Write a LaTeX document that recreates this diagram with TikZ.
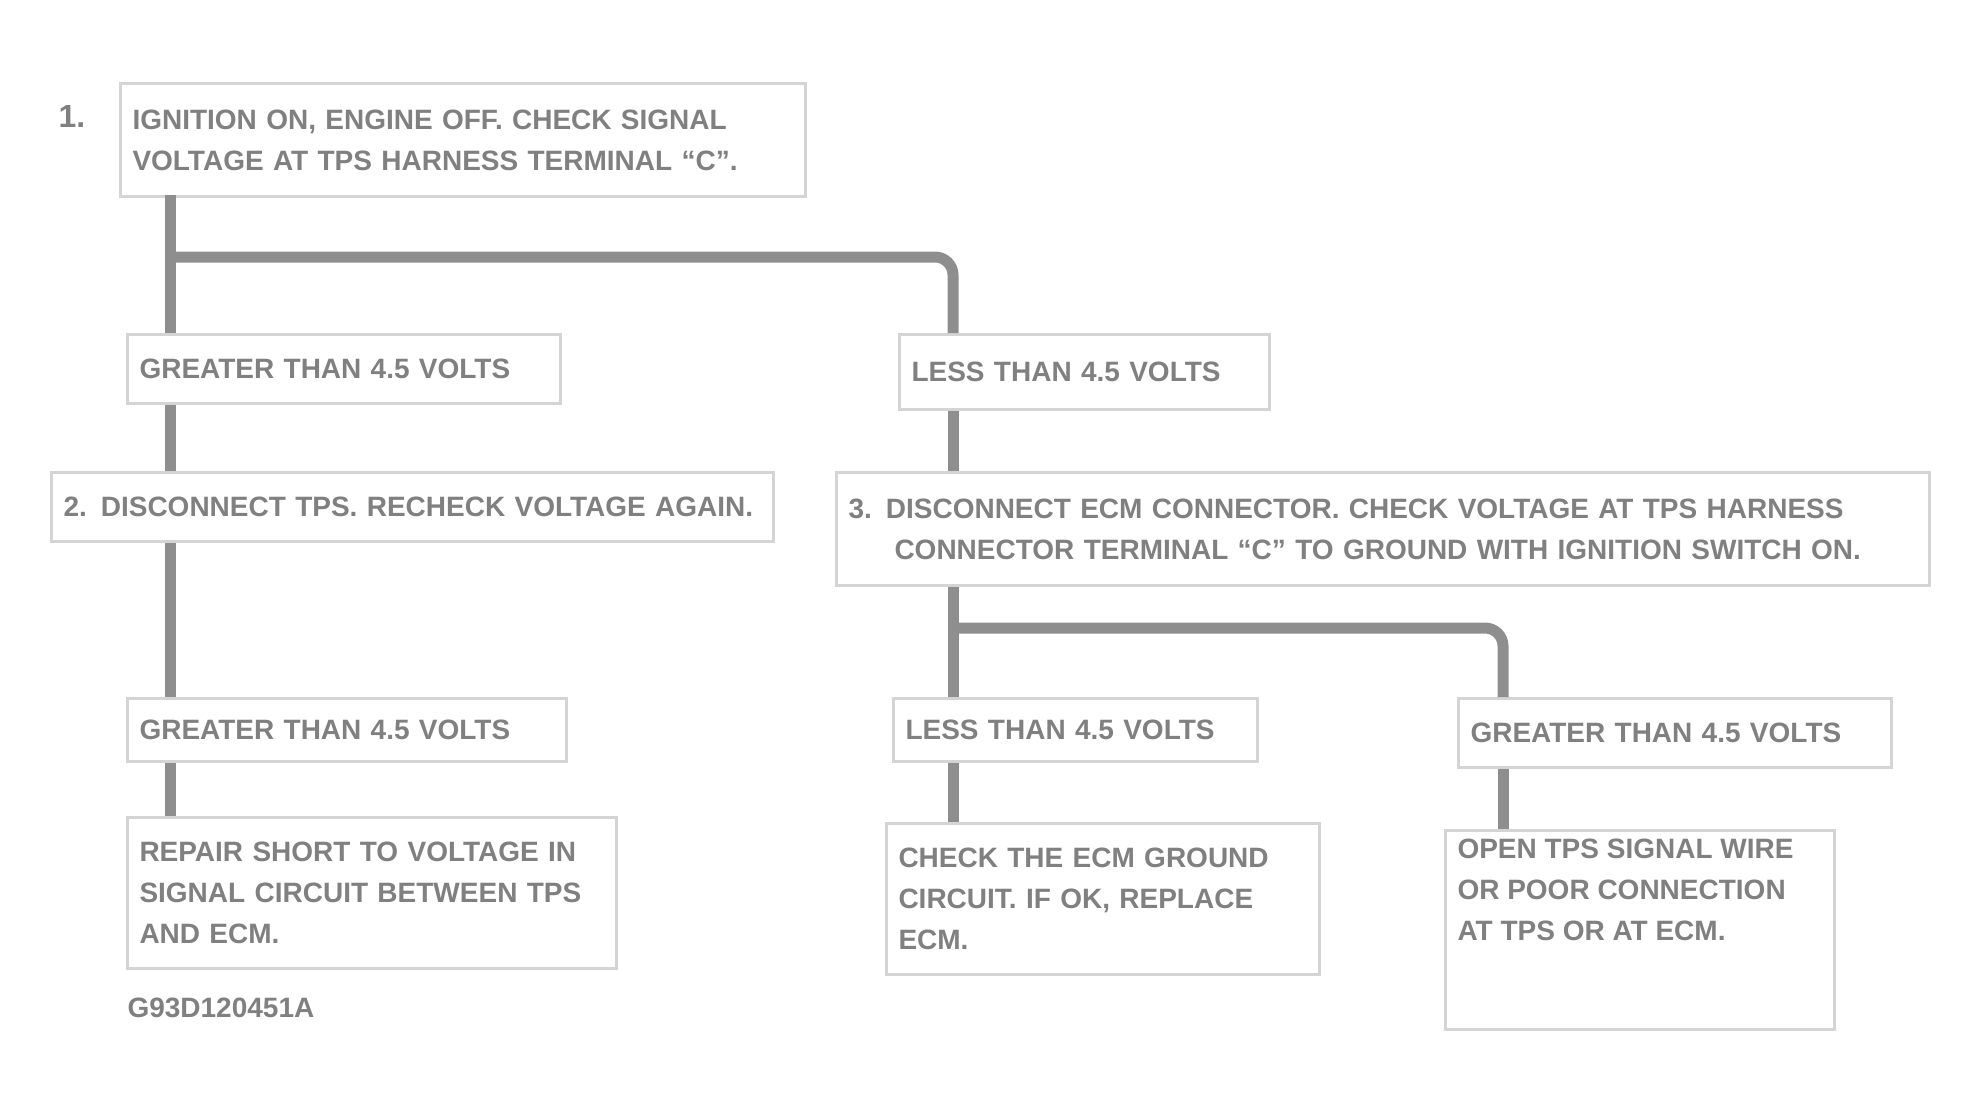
\documentclass[tikz,border=0pt]{standalone}
\usepackage{fontspec}
\setmainfont{Liberation Sans}
\definecolor{linec}{HTML}{8E8E8E}
\definecolor{boxc}{HTML}{D4D4D4}
\definecolor{txtc}{HTML}{808080}
\begin{document}
\begin{tikzpicture}[x=1pt,y=-1pt,
  txt/.style={font=\bfseries\fontsize{28}{41}\selectfont, text=txtc},
  box/.style={txt, draw=boxc, line width=3pt, fill=white, anchor=north west,
    inner xsep=12pt, inner ysep=4pt, align=left},
  link/.style={draw=linec, line width=11pt, rounded corners=18pt}]
\useasboundingbox (0,0) rectangle (1969,1109);

% boxes
\node[box, text width=661pt, minimum height=113pt] (n1) at (119,82)
  {IGNITION ON, ENGINE OFF. CHECK SIGNAL\\VOLTAGE AT TPS HARNESS TERMINAL “C”.};
\node[txt, anchor=center, font=\bfseries\fontsize{32}{41}\selectfont] (s1) at (72,116) {1.};

\node[box, text width=409pt, minimum height=69pt] (n2L) at (126,333)
  {GREATER THAN 4.5 VOLTS};
\node[box, text width=346pt, minimum height=75pt] (n2R) at (898,333)
  {LESS THAN 4.5 VOLTS};

\node[box, text width=698pt, minimum height=69pt] (n3L) at (50,471)
  {2.\enspace DISCONNECT TPS. RECHECK VOLTAGE AGAIN.};
\node[box, text width=1069pt, minimum height=113pt] (n3R) at (835,471)
  {3.\enspace DISCONNECT ECM CONNECTOR. CHECK VOLTAGE AT TPS HARNESS\\
   \hspace*{46pt}CONNECTOR TERMINAL “C” TO GROUND WITH IGNITION SWITCH ON.};

\node[box, text width=415pt, minimum height=63pt] (n4L) at (126,697)
  {GREATER THAN 4.5 VOLTS};
\node[box, text width=340pt, minimum height=63pt] (n4a) at (892,697)
  {LESS THAN 4.5 VOLTS};
\node[box, text width=409pt, minimum height=69pt] (n4b) at (1457,697)
  {GREATER THAN 4.5 VOLTS};

\node[box, text width=465pt, minimum height=151pt] (n5L) at (126,816)
  {REPAIR SHORT TO VOLTAGE IN\\SIGNAL CIRCUIT BETWEEN TPS\\AND ECM.};
\node[txt, anchor=west, font=\bfseries\fontsize{28}{30}\selectfont] (fig) at (124,1008) {G93D120451A};
\node[box, text width=409pt, minimum height=151pt] (n5a) at (885,822)
  {CHECK THE ECM GROUND\\CIRCUIT. IF OK, REPLACE\\ECM.};
\node[box, inner ysep=0pt] (n5b) at (1444,829)
  {\parbox[c][199pt][t]{365pt}{\vspace*{8pt}OPEN TPS SIGNAL WIRE\\OR POOR CONNECTION\\AT TPS OR AT ECM.}};

% connectors
\coordinate (j1) at (170,257);
\coordinate (j2) at (953,628);
\draw[link] (170,195) -- (n2L.north -| 170,0);
\draw[link] (j1) -- (953,257) -- (n2R.north -| 953,0);
\draw[link] (n2L.south -| 170,0) -- (n3L.north -| 170,0);
\draw[link] (n2R.south -| 953,0) -- (n3R.north -| 953,0);
\draw[link] (n3L.south -| 170,0) -- (n4L.north -| 170,0);
\draw[link] (n3R.south -| 953,0) -- (n4a.north -| 953,0);
\draw[link] (j2) -- (1503,628) -- (n4b.north -| 1503,0);
\draw[link] (n4L.south -| 170,0) -- (n5L.north -| 170,0);
\draw[link] (n4a.south -| 953,0) -- (n5a.north -| 953,0);
\draw[link] (n4b.south -| 1503,0) -- (n5b.north -| 1503,0);
\end{tikzpicture}
\end{document}
